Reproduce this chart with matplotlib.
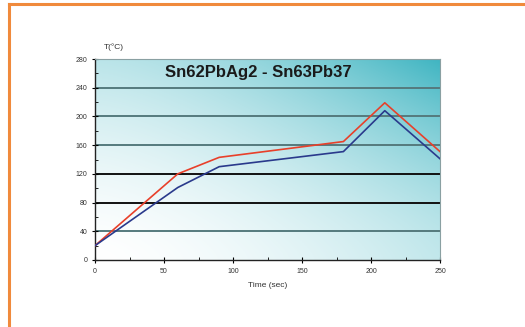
import matplotlib.pyplot as plt
import numpy as np
from matplotlib.lines import Line2D

plt.rcParams['font.family'] = ['Liberation Sans', 'DejaVu Sans']

# data
time_s = [0, 60, 90, 180, 210, 250]
sn62 = [20, 120, 143, 165, 219, 151]
sn63 = [20, 101, 130, 151, 208, 141]
y_ticks = [0, 40, 80, 120, 160, 200, 240, 280]
x_ticks = [0, 50, 100, 150, 200, 250]

fig = plt.figure(figsize=(5.25, 3.27), dpi=100)
fig.patch.set_facecolor('white')

# orange frame (top and left edges)
fig.add_artist(Line2D([9/525, 1], [1 - 4/327, 1 - 4/327], color='#f08a3c', lw=2.2))
fig.add_artist(Line2D([9/525, 9/525], [0, 1 - 4/327], color='#f08a3c', lw=2.2))

ax = fig.add_axes([95/525, 1 - 260/327, 345/525, 201/327])
ax.set_xlim(0, 250)
ax.set_ylim(0, 280)

# gradient background: white at lower left, teal concentrated at upper right
gx, gy = np.meshgrid(np.linspace(0, 1, 200), np.linspace(0, 1, 200))
g = 0.32 * gx ** 1.5 + 0.36 * gy ** 1.5 + 0.32 * (gx * gy) ** 1.5
white = np.array([1.0, 1.0, 1.0])
teal = np.array([0.25, 0.71, 0.76])
img = white[None, None, :] * (1 - g[..., None]) + teal[None, None, :] * g[..., None]
ax.imshow(img, extent=[0, 250, 0, 280], origin='lower', aspect='auto', zorder=0)

for v in [40, 160, 200, 240]:
    ax.axhline(v, color='#557a7d', lw=1.4, zorder=1)
for v in [80, 120]:
    ax.axhline(v, color='#111111', lw=1.4, zorder=1)

ax.plot(time_s, sn62, color='#e8402a', lw=1.2, zorder=3)
ax.plot(time_s, sn63, color='#2a3a8c', lw=1.2, zorder=3)

ax.text(0.473, 0.935, 'Sn62PbAg2 - Sn63Pb37', transform=ax.transAxes,
        ha='center', va='center', fontsize=12, fontweight='bold', color='#1a1a1a')

ax.set_xticks(x_ticks)
ax.set_xticks([25, 75, 125, 175, 225], minor=True)
ax.set_yticks(y_ticks)
ax.set_yticks([20, 60, 100, 140, 180, 220, 260], minor=True)
ax.tick_params(axis='both', which='major', direction='inout', length=4, width=0.8,
               labelsize=5, labelcolor='#333333')
ax.tick_params(axis='both', which='minor', direction='in', length=2, width=0.6)

for s in ['top', 'right']:
    ax.spines[s].set_color('#8aa0a2')
    ax.spines[s].set_linewidth(0.8)
for s in ['left', 'bottom']:
    ax.spines[s].set_color('#222222')
    ax.spines[s].set_linewidth(1.0)

ax.set_xlabel('Time (sec)', fontsize=6, color='#333333', labelpad=5)
fig.text(104/525, 1 - 47/327, 'T(°C)', fontsize=6, color='#333333', va='center')

fig.savefig('out.png', dpi=100)
